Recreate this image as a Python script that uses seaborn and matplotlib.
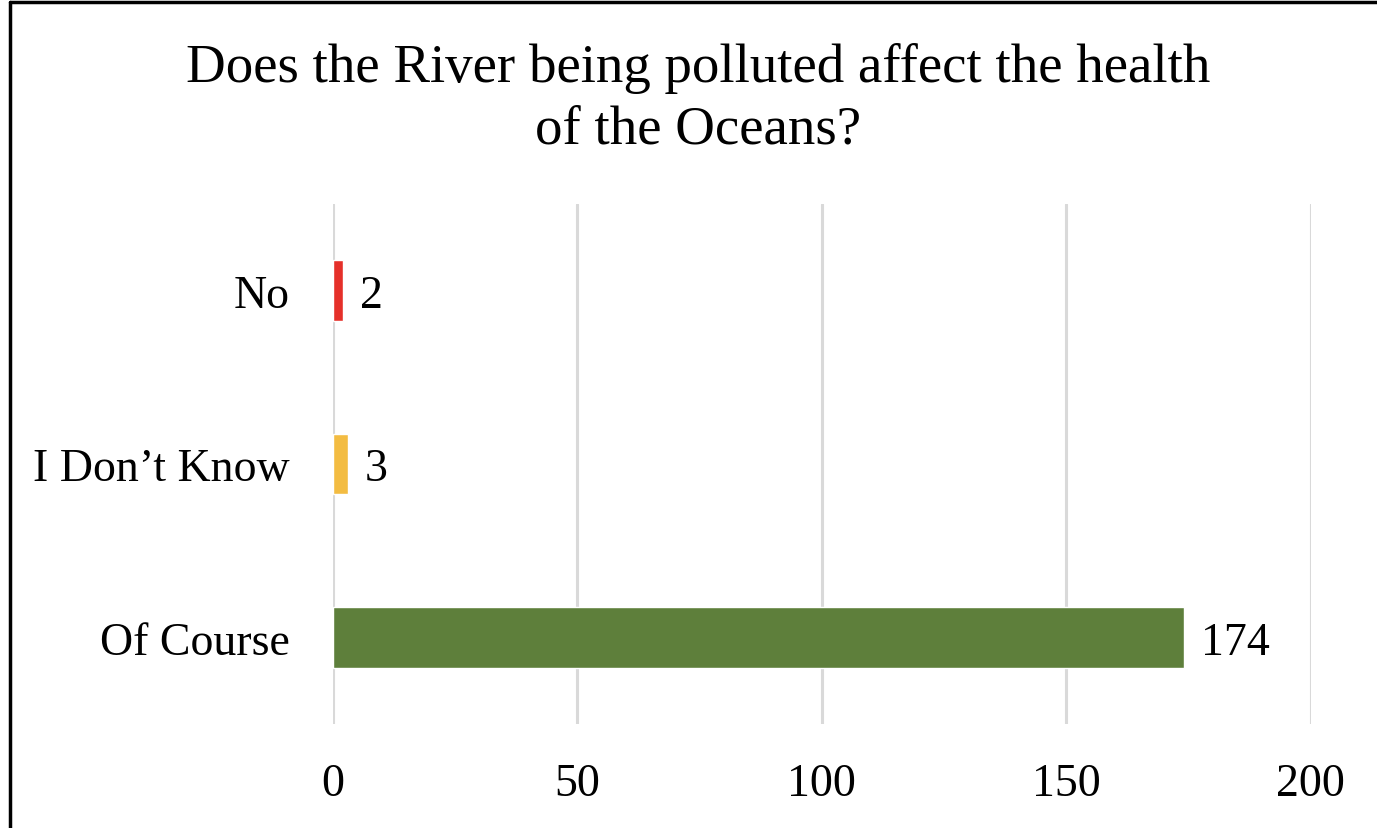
import pandas as pd
import matplotlib.pyplot as plt
import seaborn as sns
from matplotlib.lines import Line2D

# data
answers = ["No", "I Don\u2019t Know", "Of Course"]
counts = [2, 3, 174]
bar_colors = ["#E5302A", "#F3BC42", "#5E7F3B"]
x_ticks = [0, 50, 100, 150, 200]

df = pd.DataFrame({"answer": answers, "count": counts})

sns.set_style("white")
plt.rcParams['font.family'] = ['Liberation Serif', 'DejaVu Serif']
plt.rcParams['text.color'] = 'black'
plt.rcParams['xtick.color'] = 'black'
plt.rcParams['ytick.color'] = 'black'

fig = plt.figure(figsize=(13.77, 8.29), dpi=100)
ax = fig.add_axes([0.2418, 0.1255, 0.7102, 0.6272])

sns.barplot(data=df, x="count", y="answer", hue="answer", palette=bar_colors,
            saturation=1, legend=False, width=0.35, ax=ax, zorder=3)

ax.set_xlim(0, 200)
ax.set_ylim(2.5, -0.5)
ax.set_xticks(x_ticks)
ax.grid(axis="x", color="#D9D9D9", linewidth=2.2, zorder=0)
ax.grid(axis="y", visible=False)
for s in ax.spines.values():
    s.set_visible(False)
ax.tick_params(axis="x", labelsize=33, pad=28, length=0)
ax.tick_params(axis="y", labelsize=33, pad=31, length=0)
ax.set_xlabel("")
ax.set_ylabel("")

for i, v in enumerate(counts):
    ax.text(v + 3.5, i, str(v), va="center_baseline", ha="left", fontsize=33)

fig.text(0.507, 0.948, "Does the River being polluted affect the health\nof the Oceans?",
         ha="center", va="top", fontsize=39.5, linespacing=1.28)

# border (left and top visible in the screenshot)
fig.add_artist(Line2D([0.0069, 0.0069], [0, 0.9958], color="black", linewidth=2.5,
                      transform=fig.transFigure))
fig.add_artist(Line2D([0.0069, 1.0], [0.9958, 0.9958], color="black", linewidth=2.5,
                      transform=fig.transFigure))

fig.savefig("out.png", dpi=100)
